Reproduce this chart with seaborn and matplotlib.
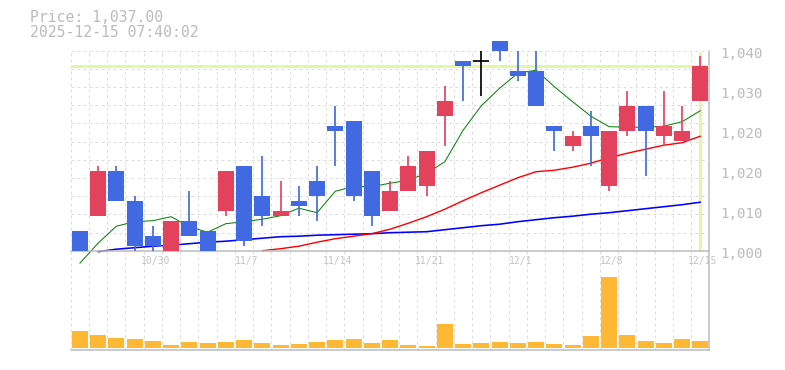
import numpy as np
import matplotlib
matplotlib.use("Agg")
import matplotlib.pyplot as plt
import matplotlib.transforms as mtransforms
import seaborn as sns

# ---------------- data ----------------
dates = ["10/24", "10/27", "10/28", "10/29", "10/30", "10/31", "11/4", "11/5", "11/6", "11/7",
         "11/10", "11/11", "11/12", "11/13", "11/14", "11/17", "11/18", "11/19", "11/20", "11/21",
         "11/25", "11/26", "11/27", "11/28", "12/1", "12/2", "12/3", "12/4", "12/5", "12/8",
         "12/9", "12/10", "12/11", "12/12", "12/15"]
opens = [1004, 1007, 1016, 1010, 1003, 1000, 1006, 1004, 1008, 1017,
         1011, 1007, 1010, 1014, 1025, 1026, 1016, 1008, 1012, 1013,
         1027, 1038, 1038, 1042, 1036, 1036, 1025, 1021, 1025, 1013,
         1024, 1029, 1023, 1022, 1030]
closes = [1000, 1016, 1010, 1001, 1001, 1006, 1003, 1000, 1016, 1002,
          1007, 1008, 1009, 1011, 1024, 1011, 1007, 1012, 1017, 1020,
          1030, 1037, 1038, 1040, 1035, 1029, 1024, 1023, 1023, 1024,
          1029, 1024, 1025, 1024, 1037]
highs = [1004, 1017, 1017, 1011, 1005, 1006, 1012, 1004, 1016, 1017,
         1019, 1014, 1013, 1017, 1029, 1026, 1016, 1014, 1019, 1020,
         1033, 1038, 1040, 1042, 1040, 1040, 1025, 1024, 1028, 1024,
         1032, 1029, 1032, 1029, 1039]
lows = [1000, 1007, 1010, 1000, 1000, 1000, 1003, 1000, 1007, 1001,
        1005, 1007, 1007, 1006, 1017, 1010, 1005, 1008, 1012, 1011,
        1021, 1030, 1031, 1038, 1034, 1029, 1020, 1020, 1017, 1012,
        1023, 1015, 1021, 1022, 1030]
ma_short = [997.5, 1001.5, 1004.9, 1005.8, 1006.0, 1006.8, 1004.8, 1003.7, 1005.4, 1005.8,
            1006.3, 1007.0, 1008.5, 1007.6, 1011.9, 1012.8, 1012.8, 1013.5, 1014.1, 1015.5,
            1017.8, 1024.1, 1029.0, 1032.5, 1035.5, 1036.1, 1032.8, 1029.8, 1026.9, 1024.8,
            1024.7, 1024.7, 1024.9, 1025.8, 1028.0]
ma_mid = [np.nan] * 10 + [1000.0, 1000.4, 1000.9, 1001.7, 1002.4, 1002.9, 1003.4, 1004.3, 1005.5, 1006.8,
                          1008.3, 1010.0, 1011.6, 1013.1, 1014.6, 1015.8, 1016.1, 1016.7, 1017.5, 1018.6,
                          1019.5, 1020.3, 1021.1, 1021.6, 1022.9]
ma_long = [np.nan, 999.8, 1000.3, 1000.6, 1000.9, 1001.1, 1001.4, 1001.7, 1001.9, 1002.2,
           1002.5, 1002.8, 1002.9, 1003.1, 1003.2, 1003.3, 1003.4, 1003.6, 1003.7, 1003.8,
           1004.2, 1004.6, 1005.0, 1005.3, 1005.8, 1006.2, 1006.6, 1006.9, 1007.3, 1007.6,
           1008.0, 1008.4, 1008.8, 1009.2, 1009.7]
volumes = [17000, 13000, 10000, 9000, 7000, 3000, 6000, 5000, 6000, 8000,
           5000, 3000, 4000, 6000, 8000, 9000, 5000, 8000, 3000, 2000,
           24000, 4000, 5000, 6000, 5000, 6000, 4000, 3000, 12000, 71000,
           13000, 7000, 5000, 9000, 7000]
current_price = 1037
price_ticks = [1000, 1008, 1016, 1024, 1032, 1040]
price_tick_labels = ["1,000", "1,010", "1,020", "1,020", "1,030", "1,040"]
date_ticks = ["10/30", "11/7", "11/14", "11/21", "12/1", "12/8", "12/15"]
title_lines = ["Price: 1,037.00", "2025-12-15 07:40:02"]

# ---------------- style ----------------
sns.set_style("white")
plt.rcParams["font.family"] = ["DejaVu Sans Mono", "DejaVu Sans"]

UP, DOWN, DOJI = "#E2425C", "#4169E1", "#000000"
GRID, AXIS, TXT = "#DDDDDD", "#BBBBBB", "#BBBBBB"
HILITE = "#E3F5A6"
PX = 0.72  # points per pixel at dpi 100

W, H = 785, 370
fig = plt.figure(figsize=(W / 100, H / 100), dpi=100)


def rect(x0, y0, x1, y1):
    return [x0 / W, 1 - y1 / H, (x1 - x0) / W, (y1 - y0) / H]


L, R = 70.7, 709.5
n = len(dates)
idx = np.arange(n)
xlim = (-0.5, n - 0.5)

bg = fig.add_axes(rect(L, 50.7, R, 349.5), zorder=0)
axp = fig.add_axes(rect(L, 50.7, R, 250.7), zorder=1)
axv = fig.add_axes(rect(L, 270, R, 349.5), zorder=1)

# background: vertical dashed grid spanning both panels + right axis line
bg.set_xlim(*xlim)
bg.set_ylim(0, 1)
for k in range(n):
    bg.axvline(k - 0.5, color=GRID, lw=1 * PX, ls=(0, (3, 3)))
for s in ["top", "left", "bottom"]:
    bg.spines[s].set_visible(False)
bg.spines["right"].set_color(AXIS)
bg.spines["right"].set_linewidth(1.5 * PX)
bg.set_xticks([])
bg.set_yticks([])
bg.patch.set_alpha(0)

# ---------------- price panel ----------------
axp.patch.set_alpha(0)
axp.set_xlim(*xlim)
axp.set_ylim(1000, 1040)
for k in range(11):
    axp.axhline(1040 - k * 40 / 11, color=GRID, lw=1 * PX, ls=(0, (3, 3)), zorder=0.5)

axp.axhline(current_price, color=HILITE, lw=3 * PX, zorder=1)
axp.axvline(n - 1, ymin=0, ymax=0.99, color=HILITE, lw=3 * PX, zorder=1)

sns.lineplot(x=idx, y=ma_long, ax=axp, color="#0000FF", lw=1.6 * PX, clip_on=False, zorder=2)
sns.lineplot(x=idx, y=ma_mid, ax=axp, color="#FF0000", lw=1.4 * PX, clip_on=False, zorder=2)
sns.lineplot(x=idx, y=ma_short, ax=axp, color="#008000", lw=1.0 * PX, clip_on=False, zorder=2)

bw = 16 / 18.27
for i in range(n):
    o, c, hi, lo = opens[i], closes[i], highs[i], lows[i]
    col = UP if c > o else (DOWN if c < o else DOJI)
    axp.vlines(i, lo, hi, color=col, lw=1.7 * PX, zorder=3, clip_on=False)
    if c == o:
        axp.hlines(o, i - bw / 2, i + bw / 2, color=col, lw=1.7 * PX, zorder=3, clip_on=False)
    else:
        axp.bar(i, abs(c - o), bottom=min(o, c), width=bw, color=col, lw=0, zorder=3, clip_on=False)

for s in ["top", "left", "right"]:
    axp.spines[s].set_visible(False)
axp.spines["bottom"].set_color(AXIS)
axp.spines["bottom"].set_linewidth(1.5 * PX)
axp.yaxis.tick_right()
axp.set_yticks(price_ticks)
axp.set_yticklabels(price_tick_labels)
axp.tick_params(axis="y", length=0, pad=7.8, labelsize=10.2, labelcolor=TXT)
axp.set_xticks([dates.index(d) for d in date_ticks])
axp.set_xticklabels(date_ticks)
axp.tick_params(axis="x", length=0, pad=4.0, labelsize=7.0, labelcolor="#C4C4C4")
axp.set_xlabel("")
axp.set_ylabel("")

# small pixel offsets of tick labels as in the reference
off_y = mtransforms.ScaledTranslation(0, -2 / 100, fig.dpi_scale_trans)
for lab in axp.get_yticklabels():
    lab.set_transform(lab.get_transform() + off_y)
off_x = mtransforms.ScaledTranslation(2.5 / 100, 0, fig.dpi_scale_trans)
for lab in axp.get_xticklabels():
    lab.set_transform(lab.get_transform() + off_x)

# ---------------- volume panel ----------------
sns.barplot(x=idx, y=volumes, ax=axv, color="#FFB833", width=bw, saturation=1,
            errorbar=None, linewidth=0)
axv.patch.set_alpha(0)
axv.set_xlim(*xlim)
axv.set_ylim(-2000, 77500)
for s in ["top", "left", "right"]:
    axv.spines[s].set_visible(False)
axv.spines["bottom"].set_color(AXIS)
axv.spines["bottom"].set_linewidth(1.5 * PX)
axv.set_xticks([])
axv.set_yticks([])
axv.set_xlabel("")
axv.set_ylabel("")

# ---------------- header text ----------------
fig.text(30 / W, 1 - 17.7 / H, title_lines[0], ha="left", va="center", color=TXT, size=10.6)
fig.text(30 / W, 1 - 32.7 / H, title_lines[1], ha="left", va="center", color=TXT, size=10.6)

fig.savefig("out.png", dpi=100)
